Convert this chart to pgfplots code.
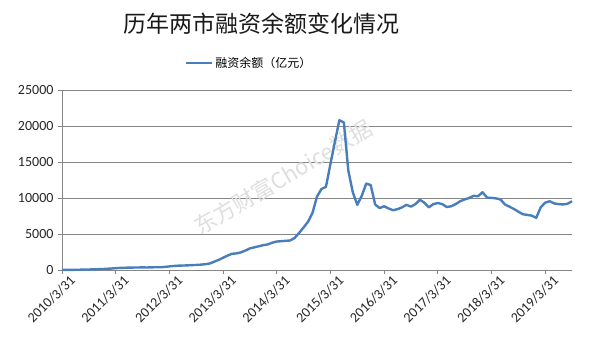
\documentclass[border=0pt]{standalone}
\usepackage{fontspec}
\setmainfont{Carlito}
\newfontfamily\cjk{Noto Sans CJK SC}
\usepackage{pgfplots}
\pgfplotsset{compat=1.18}
\definecolor{lineblue}{HTML}{4A7EBB}
\definecolor{gridgray}{HTML}{868686}
\pgfplotstableread{
i v
0 5
1 10
2 20
3 30
4 40
5 60
6 70
7 90
8 110
9 130
10 170
11 200
12 250
13 290
14 310
15 330
16 340
17 350
18 360
19 350
20 370
21 380
22 380
23 430
24 500
25 560
26 600
27 620
28 640
29 680
30 700
31 740
32 800
33 900
34 1150
35 1400
36 1700
37 2000
38 2250
39 2300
40 2450
41 2700
42 3000
43 3150
44 3300
45 3450
46 3550
47 3800
48 3950
49 4000
50 4050
51 4100
52 4450
53 5150
54 5900
55 6700
56 7950
57 10200
58 11250
59 11550
60 14700
61 17800
62 20800
63 20500
64 13800
65 10800
66 9050
67 10300
68 12000
69 11800
70 9100
71 8600
72 8850
73 8550
74 8300
75 8450
76 8700
77 9050
78 8800
79 9150
80 9750
81 9350
82 8700
83 9150
84 9300
85 9150
86 8750
87 8850
88 9150
89 9550
90 9800
91 10000
92 10300
93 10250
94 10800
95 10050
96 10020
97 9950
98 9800
99 9100
100 8800
101 8480
102 8100
103 7750
104 7650
105 7550
106 7250
107 8700
108 9350
109 9550
110 9250
111 9150
112 9100
113 9200
114 9550
}\datatable
\begin{document}
\begin{tikzpicture}[x=1pt,y=1pt]
\useasboundingbox (0,0) rectangle (600,347);
\node[font=\cjk\fontsize{23}{26}\selectfont, text=black!90] at (261,323.5) {历年两市融资余额变化情况};
\begin{axis}[
  at={(62pt,77pt)}, anchor=south west, scale only axis,
  width=510pt, height=180pt,
  xmin=0, xmax=114, ymin=0, ymax=25000,
  ytick={0,5000,...,25000},
  scaled y ticks=false,
  xtick={0,12,...,108},
  xticklabels={2010/3/31,2011/3/31,2012/3/31,2013/3/31,2014/3/31,2015/3/31,2016/3/31,2017/3/31,2018/3/31,2019/3/31},
  axis lines=left, axis line style={-, draw=gridgray, line width=0.8pt},
  ymajorgrids, grid style={draw=gridgray, line width=0.8pt},
  tick align=outside, major tick length=4pt,
  tick style={draw=gridgray, line width=0.8pt},
  /pgf/number format/assume math mode=true,
  /pgf/number format/1000 sep={},
  tick label style={font=\fontsize{14}{14}\selectfont, text=black!85},
  yticklabel style={xshift=-1pt},
  x tick label style={rotate=45, anchor=north east, inner sep=1pt, xshift=6pt, yshift=-4pt},
  legend style={at={(axis description cs:0.367,1.15)}, anchor=center, draw=none, fill=none,
    font=\cjk\fontsize{12}{14}\selectfont},
  legend image code/.code={\draw[#1] (0pt,0pt) -- (26pt,0pt);},
  clip=false,
]
\node[rotate=30.5, text=gray!26, font=\cjk\fontsize{22}{22}\selectfont] at (axis cs:49.4,12850) {东方财富Choice数据};
\addplot[lineblue, line width=2.4pt, line join=round] table[x=i,y=v] {\datatable};
\addlegendentry{融资余额（亿元）}
\end{axis}
\end{tikzpicture}
\end{document}
